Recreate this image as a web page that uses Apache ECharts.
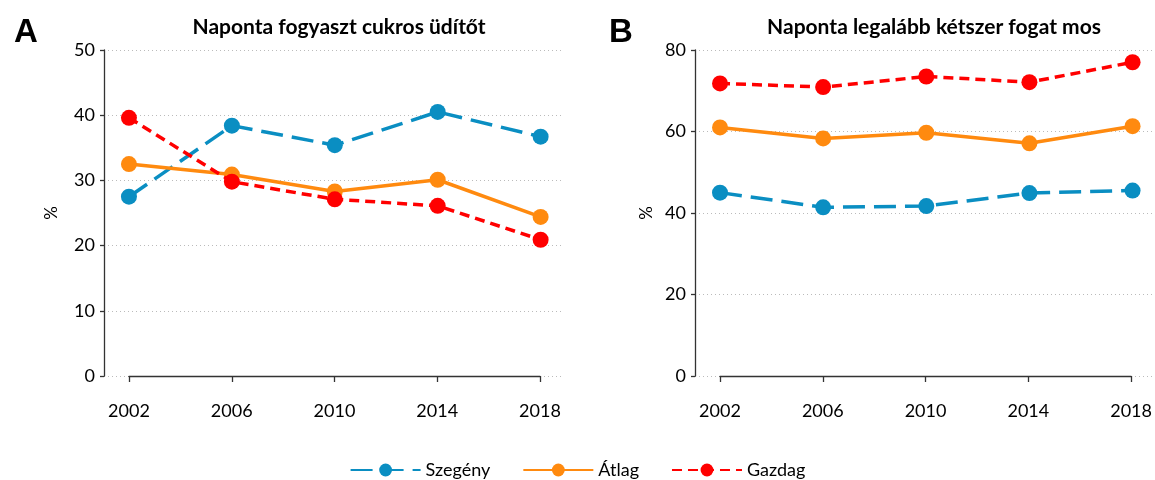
<!DOCTYPE html>
<html>
<head>
<meta charset="utf-8">
<script src="https://cdn.jsdelivr.net/npm/echarts@6/dist/echarts.min.js"></script>
<style>
  html, body { margin: 0; padding: 0; background: #fff; }
  #main { width: 1155px; height: 480px; }
</style>
</head>
<body>
<div id="main"></div>
<script>
const years = [2002, 2006, 2010, 2014, 2018];
const seriesNames = ['Szegény', 'Átlag', 'Gazdag'];

// A: Naponta fogyaszt cukros üdítőt (%)
const sodaPoor = [27.5, 38.4, 35.4, 40.5, 36.7];
const sodaAvg = [32.5, 30.9, 28.3, 30.1, 24.4];
const sodaRich = [39.6, 29.8, 27.1, 26.1, 20.9];

// B: Naponta legalább kétszer fogat mos (%)
const brushPoor = [45.0, 41.4, 41.7, 44.9, 45.5];
const brushAvg = [61.0, 58.3, 59.7, 57.1, 61.3];
const brushRich = [71.8, 70.9, 73.5, 72.1, 77.0];

const colors = ['#0a8ec2', '#ff8a0f', '#ff0000'];
const dashes = [[22, 9], 'solid', [10, 6]];
const font = 'Lato';

const chartDom = document.getElementById('main');
const myChart = echarts.init(chartDom);

function makeSeries(values, idx, axisIdx) {
    return {
        name: seriesNames[idx],
        type: 'line',
        xAxisIndex: axisIdx,
        yAxisIndex: axisIdx,
        data: years.map((y, i) => [y, values[i]]),
        symbol: 'circle',
        symbolSize: 16,
        color: colors[idx],
        lineStyle: { width: 3.5, type: dashes[idx], color: colors[idx] },
        itemStyle: { color: colors[idx] },
        animation: false,
        z: 3 + idx
    };
}

function plotYAxis(gridIdx, max, interval, gap) {
    return {
        type: 'value',
        gridIndex: gridIdx,
        min: 0,
        max: max,
        interval: interval,
        name: '%',
        nameLocation: 'middle',
        nameGap: gap,
        nameRotate: 90,
        nameTextStyle: { fontFamily: font, fontSize: 17, color: '#000' },
        axisLine: { show: true, lineStyle: { color: '#333', width: 1.3 } },
        axisTick: { show: true, length: 4, lineStyle: { color: '#333', width: 1.3 } },
        axisLabel: { fontFamily: font, fontSize: 18, color: '#000', margin: 9 },
        splitLine: { show: true, lineStyle: { color: '#bbb', type: [1, 3], width: 1 } }
    };
}

function yearAxis(gridIdx, shown) {
    return {
        type: 'value',
        gridIndex: gridIdx,
        min: shown ? 2002 : 2001.03,
        max: shown ? 2018 : 2018.87,
        interval: 4,
        show: shown,
        offset: 14,
        axisLine: { show: true, lineStyle: { color: '#333', width: 1.3 } },
        axisTick: { show: true, length: 6, lineStyle: { color: '#333', width: 1.3 } },
        axisLabel: {
            fontFamily: font, fontSize: 18, color: '#000', margin: 12,
            showMinLabel: true, showMaxLabel: true,
            formatter: v => String(v)
        },
        splitLine: { show: false }
    };
}

const option = {
    backgroundColor: '#fff',
    title: [
        { text: 'A', left: 9, top: 11, textStyle: { fontFamily: 'Liberation Sans', fontWeight: 'bold', fontSize: 33, color: '#000' } },
        { text: 'B', left: 604, top: 11, textStyle: { fontFamily: 'Liberation Sans', fontWeight: 'bold', fontSize: 33, color: '#000' } },
        { text: 'Naponta fogyaszt cukros üdítőt', left: 334, top: 12, textAlign: 'center', textStyle: { fontFamily: font, fontWeight: 'bold', fontSize: 21, color: '#000' } },
        { text: 'Naponta legalább kétszer fogat mos', left: 929, top: 12, textAlign: 'center', textStyle: { fontFamily: font, fontWeight: 'bold', fontSize: 21, color: '#000' } }
    ],
    legend: {
        data: seriesNames,
        left: 'center',
        top: 456,
        itemWidth: 70,
        itemHeight: 16,
        itemGap: 32,
        textStyle: { fontFamily: font, fontSize: 18, color: '#000' }
    },
    grid: [
        { left: 104, top: 50, width: 459, height: 326 },
        { left: 695, top: 50, width: 460, height: 326 },
        { left: 129, top: 50, width: 411, height: 326 },
        { left: 720, top: 50, width: 413, height: 326 }
    ],
    xAxis: [yearAxis(0, false), yearAxis(1, false), yearAxis(2, true), yearAxis(3, true)],
    yAxis: [
        plotYAxis(0, 50, 10, 44),
        plotYAxis(1, 80, 20, 40),
        { type: 'value', gridIndex: 2, min: 0, max: 50, show: false },
        { type: 'value', gridIndex: 3, min: 0, max: 80, show: false }
    ],
    series: [
        makeSeries(sodaPoor, 0, 0),
        makeSeries(sodaAvg, 1, 0),
        makeSeries(sodaRich, 2, 0),
        makeSeries(brushPoor, 0, 1),
        makeSeries(brushAvg, 1, 1),
        makeSeries(brushRich, 2, 1)
    ]
};

myChart.setOption(option);
window.addEventListener('resize', () => {
    myChart.resize();
});
</script>
</body>
</html>
